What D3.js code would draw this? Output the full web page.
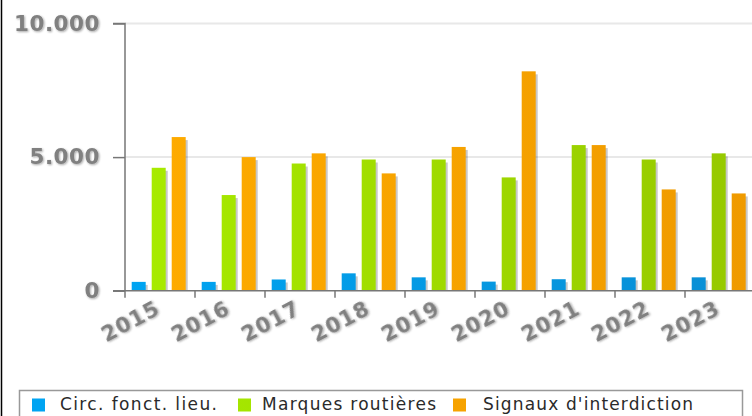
<!DOCTYPE html>
<html><head><meta charset="utf-8">
<script src="https://cdn.jsdelivr.net/npm/d3@7"></script>
<style>
html,body{margin:0;padding:0;background:#fff;}
svg{display:block;}
</style></head>
<body>
<script>
const years = ["2015","2016","2017","2018","2019","2020","2021","2022","2023"];
const seriesNames = ["Circ. fonct. lieu.", "Marques routières", "Signaux d'interdiction"];
const circ = [330, 330, 420, 650, 500, 340, 430, 500, 500];
const marques = [4600, 3580, 4760, 4910, 4910, 4240, 5450, 4910, 5140];
const signaux = [5750, 5000, 5140, 4390, 5380, 8210, 5450, 3790, 3640];
const yTicks = [0, 5000, 10000];

const W = 752, H = 416;
const svg = d3.select("body").append("svg").attr("width", W).attr("height", H);
const defs = svg.append("defs");

const colorStops = [["#00a4f2", "#0a8ed4"], ["#a8ec00", "#96c800"], ["#ffac00", "#ef9a00"]];
colorStops.forEach((c, i) => {
  const g = defs.append("linearGradient").attr("id", "g" + i)
    .attr("gradientUnits", "userSpaceOnUse").attr("x1", 125).attr("x2", 752).attr("y1", 0).attr("y2", 0);
  g.append("stop").attr("offset", "0%").attr("stop-color", c[0]);
  g.append("stop").attr("offset", "100%").attr("stop-color", c[1]);
});
const f = defs.append("filter").attr("id", "ts").attr("x", "-10%").attr("y", "-30%").attr("width", "130%").attr("height", "160%");
f.append("feGaussianBlur").attr("in", "SourceAlpha").attr("stdDeviation", 1).attr("result", "b");
f.append("feOffset").attr("in", "b").attr("dx", 1).attr("dy", 1).attr("result", "o");
f.append("feComponentTransfer").attr("in", "o").attr("result", "o2")
  .append("feFuncA").attr("type", "linear").attr("slope", 0.35);
const fm = f.append("feMerge");
fm.append("feMergeNode").attr("in", "o2");
fm.append("feMergeNode").attr("in", "SourceGraphic");

const x = d3.scaleBand().domain(years).range([125, 755]).paddingInner(0).paddingOuter(0);
const xs = d3.scaleBand().domain(seriesNames).range([6.7, 60.7]).paddingInner(0.3).paddingOuter(0);
const y = d3.scaleLinear().domain([0, 10000]).range([290.7, 23.5]);
const locale = d3.formatLocale({decimal: ",", thousands: ".", grouping: [3], currency: ["", "€"]});
const fmt = locale.format(",d");

// frame line at left
svg.append("line").attr("x1", 1.5).attr("x2", 1.5).attr("y1", 0).attr("y2", H).attr("stroke", "#000").attr("stroke-width", 1.5);

// gridlines
svg.append("g").selectAll("line").data(yTicks.filter(d => d > 0)).join("line")
  .attr("x1", 125).attr("x2", W).attr("y1", d => y(d)).attr("y2", d => y(d))
  .attr("stroke", "#e8e8e8").attr("stroke-width", 2);

// bars
const data = [circ, marques, signaux];
const barsG = svg.append("g");
data.forEach((vals, si) => {
  const gs = barsG.append("g");
  gs.selectAll("rect.sh").data(vals).join("rect").attr("class", "sh")
    .attr("x", (d, i) => x(years[i]) + xs(seriesNames[si]) + 2)
    .attr("y", d => y(d) + 3)
    .attr("width", xs.bandwidth())
    .attr("height", d => Math.max(0, y(0) - y(d) - 3))
    .attr("fill", "#000").attr("opacity", 0.22);
  gs.selectAll("rect.b").data(vals).join("rect").attr("class", "b")
    .attr("x", (d, i) => x(years[i]) + xs(seriesNames[si]))
    .attr("y", d => y(d))
    .attr("width", xs.bandwidth())
    .attr("height", d => y(0) - y(d))
    .attr("fill", "url(#g" + si + ")");
});

// y axis
const yAxis = d3.axisLeft(y).tickValues(yTicks).tickFormat(fmt).tickSize(12).tickPadding(13);
const yg = svg.append("g").attr("transform", "translate(125,0)").call(yAxis);
yg.select(".domain").attr("stroke", "#777").attr("stroke-width", 1.5).attr("d", `M-12,${y(10000)}H0V${y(0)}`);
yg.selectAll(".tick line").attr("stroke", "#777").attr("stroke-width", 1.5);
yg.selectAll(".tick text").attr("fill", "#808080").attr("font-family", "DejaVu Sans")
  .attr("font-weight", "bold").attr("font-size", 21.5).attr("letter-spacing", 0.5).attr("filter", "url(#ts)");

// x axis
const xAxis = d3.axisBottom(x).tickSize(0).tickFormat("");
const xg = svg.append("g").attr("transform", `translate(0,${y(0)})`).call(xAxis);
xg.select(".domain").attr("stroke", "#777").attr("stroke-width", 1.5).attr("d", `M113,0H${W}`);
xg.selectAll(".tick").remove();
xg.selectAll("line.bt").data(years.concat(["end"])).join("line").attr("class", "bt")
  .attr("x1", (d, i) => x.range()[0] + i * x.step()).attr("x2", (d, i) => x.range()[0] + i * x.step())
  .attr("y1", 0).attr("y2", 7).attr("stroke", "#777").attr("stroke-width", 1.5);
xg.selectAll("text.lbl").data(years).join("text").attr("class", "lbl")
  .attr("transform", d => `translate(${x(d) + x.bandwidth() / 2 + 1.5},${22.5}) rotate(-28)`)
  .attr("text-anchor", "end")
  .attr("fill", "#808080").attr("font-family", "DejaVu Sans").attr("font-weight", "bold")
  .attr("font-size", 21).attr("letter-spacing", 1).attr("filter", "url(#ts)")
  .text(d => d);

// legend
const lg = svg.append("g");
lg.append("rect").attr("x", 19.5).attr("y", 390.5).attr("width", 723).attr("height", 40)
  .attr("fill", "#fff").attr("stroke", "#999").attr("stroke-width", 1.5);
const legSq = [32, 238, 453];
const legTx = [60, 262, 483];
const legW = [157, 174, 210];
seriesNames.forEach((n, i) => {
  lg.append("rect").attr("x", legSq[i]).attr("y", 398.5).attr("width", 13).attr("height", 13).attr("fill", "url(#g" + i + ")");
  lg.append("text").attr("x", legTx[i]).attr("y", 409.5).attr("font-family", "DejaVu Sans")
    .attr("font-size", 17).attr("fill", "#2a2a2a").attr("textLength", legW[i]).attr("lengthAdjust", "spacing").text(n);
});
</script>
</body></html>
